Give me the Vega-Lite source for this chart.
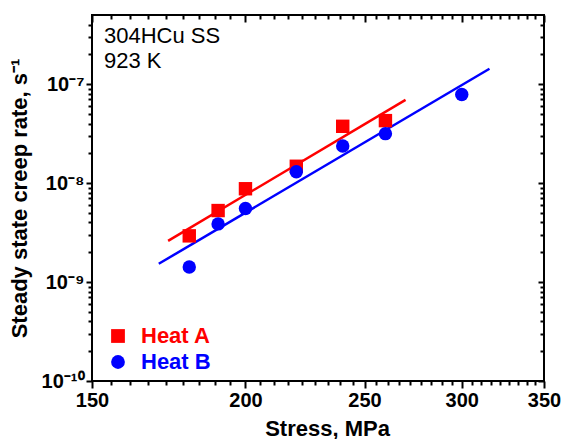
{
  "$schema": "https://vega.github.io/schema/vega-lite/v6.json",
  "width": 452,
  "height": 366,
  "padding": {"left": 8, "top": 14, "right": 0, "bottom": 0},
  "background": "white",
  "config": {
    "view": {"stroke": "black", "strokeWidth": 2},
    "font": "Liberation Sans",
    "axis": {
      "labelFont": "Liberation Sans",
      "labelFontWeight": "bold",
      "labelFontSize": 20,
      "labelColor": "black",
      "titleFont": "Liberation Sans",
      "titleFontWeight": "bold",
      "titleFontSize": 22,
      "titleColor": "black",
      "tickColor": "black",
      "tickWidth": 2,
      "grid": false
    },
    "legend": {
      "labelFont": "Liberation Sans",
      "labelFontWeight": "bold",
      "labelFontSize": 22
    }
  },
  "datasets": {
    "points": [
      {"series": "Heat A", "stress": 180, "rate": 2.93e-9},
      {"series": "Heat A", "stress": 190, "rate": 5.28e-9},
      {"series": "Heat A", "stress": 200, "rate": 8.77e-9},
      {"series": "Heat A", "stress": 220, "rate": 1.48e-8},
      {"series": "Heat A", "stress": 240, "rate": 3.75e-8},
      {"series": "Heat A", "stress": 260, "rate": 4.28e-8},
      {"series": "Heat B", "stress": 180, "rate": 1.42e-9},
      {"series": "Heat B", "stress": 190, "rate": 3.87e-9},
      {"series": "Heat B", "stress": 200, "rate": 5.53e-9},
      {"series": "Heat B", "stress": 220, "rate": 1.30e-8},
      {"series": "Heat B", "stress": 240, "rate": 2.37e-8},
      {"series": "Heat B", "stress": 260, "rate": 3.16e-8},
      {"series": "Heat B", "stress": 300, "rate": 7.87e-8}
    ],
    "fits": [
      {"series": "Heat A", "stress": 173, "rate": 2.61e-9},
      {"series": "Heat A", "stress": 270, "rate": 6.93e-8},
      {"series": "Heat B", "stress": 170, "rate": 1.53e-9},
      {"series": "Heat B", "stress": 316, "rate": 1.43e-7}
    ]
  },
  "resolve": {
    "scale": {"x": "shared", "y": "shared"},
    "axis": {"x": "independent", "y": "independent"}
  },
  "layer": [
    {
      "data": {"name": "fits"},
      "transform": [{"filter": "datum.series == 'Heat A'"}],
      "mark": {"type": "line", "strokeWidth": 2.5, "color": "#ff0000"},
      "encoding": {
        "x": {
          "field": "stress", "type": "quantitative",
          "scale": {"type": "log", "domain": [150, 350], "nice": false},
          "axis": {
            "orient": "bottom", "title": "Stress, MPa",
            "values": [150, 200, 250, 300, 350], "format": "d", "domain": false,
            "tickSize": 7, "labelPadding": 2, "labelFlush": false, "titlePadding": 8, "titleX": 235
          }
        },
        "y": {
          "field": "rate", "type": "quantitative",
          "scale": {"type": "log", "domain": [1e-10, 5e-7], "nice": false},
          "axis": {
            "orient": "left", "title": "Steady state creep rate, s⁻¹", "domain": false,
            "values": [1e-10, 1e-9, 1e-8, 1e-7],
            "labelExpr": "datum.value < 5e-10 ? '10⁻¹⁰' : datum.value < 5e-9 ? '10⁻⁹' : datum.value < 5e-8 ? '10⁻⁸' : '10⁻⁷'",
            "tickSize": 6, "labelPadding": 2, "titlePadding": 10
          }
        }
      }
    },
    {
      "data": {"name": "fits"},
      "transform": [{"filter": "datum.series == 'Heat B'"}],
      "mark": {"type": "line", "strokeWidth": 2.5, "color": "#0000ff"},
      "encoding": {
        "x": {"field": "stress", "type": "quantitative", "axis": null},
        "y": {"field": "rate", "type": "quantitative", "axis": null}
      }
    },
    {
      "data": {"name": "points"},
      "mark": {"type": "point", "filled": true, "opacity": 1, "size": 180},
      "encoding": {
        "x": {
          "field": "stress", "type": "quantitative",
          "axis": {
            "orient": "bottom", "title": null, "labels": false, "tickSize": 4, "domain": false,
            "values": [155.56, 161.11, 166.67, 172.22, 177.78, 183.33, 188.89, 194.44,
                       205.56, 211.11, 216.67, 222.22, 227.78, 233.33, 238.89, 244.44,
                       255.56, 261.11, 266.67, 272.22, 277.78, 283.33, 288.89, 294.44,
                       305.56, 311.11, 316.67, 322.22, 327.78, 333.33, 338.89, 344.44]
          }
        },
        "y": {
          "field": "rate", "type": "quantitative",
          "axis": {
            "orient": "left", "title": null, "labels": false, "tickSize": 4, "domain": false,
            "values": [2e-10, 3e-10, 4e-10, 5e-10, 6e-10, 7e-10, 8e-10, 9e-10,
                       2e-9, 3e-9, 4e-9, 5e-9, 6e-9, 7e-9, 8e-9, 9e-9,
                       2e-8, 3e-8, 4e-8, 5e-8, 6e-8, 7e-8, 8e-8, 9e-8,
                       2e-7, 3e-7, 4e-7]
          }
        },
        "color": {
          "field": "series", "type": "nominal",
          "scale": {"domain": ["Heat A", "Heat B"], "range": ["#ff0000", "#0000ff"]},
          "legend": {
            "title": null, "orient": "bottom-left", "offset": 8, "padding": 0,
            "symbolSize": 190, "symbolStrokeWidth": 0, "symbolOffset": 7,
            "labelOffset": 12, "rowPadding": 4,
            "encoding": {
              "labels": {
                "fill": {"condition": {"test": "datum.value === 'Heat A'", "value": "#ff0000"}, "value": "#0000ff"}
              }
            }
          }
        },
        "shape": {
          "field": "series", "type": "nominal",
          "scale": {"domain": ["Heat A", "Heat B"], "range": ["square", "circle"]}
        }
      }
    },
    {
      "data": {"name": "points"},
      "mark": {"type": "point", "opacity": 0},
      "encoding": {
        "x": {
          "field": "stress", "type": "quantitative",
          "axis": {"orient": "top", "title": null, "labels": false, "tickSize": 7, "offset": -7, "domain": false,
                   "values": [150, 200, 250, 300, 350]}
        },
        "y": {
          "field": "rate", "type": "quantitative",
          "axis": {"orient": "right", "title": null, "labels": false, "tickSize": 6, "offset": -6, "domain": false,
                   "values": [1e-10, 1e-9, 1e-8, 1e-7]}
        }
      }
    },
    {
      "data": {"name": "points"},
      "mark": {"type": "point", "opacity": 0},
      "encoding": {
        "x": {
          "field": "stress", "type": "quantitative",
          "axis": {
            "orient": "top", "title": null, "labels": false, "tickSize": 4, "offset": -4, "domain": false,
            "values": [155.56, 161.11, 166.67, 172.22, 177.78, 183.33, 188.89, 194.44,
                       205.56, 211.11, 216.67, 222.22, 227.78, 233.33, 238.89, 244.44,
                       255.56, 261.11, 266.67, 272.22, 277.78, 283.33, 288.89, 294.44,
                       305.56, 311.11, 316.67, 322.22, 327.78, 333.33, 338.89, 344.44]
          }
        },
        "y": {
          "field": "rate", "type": "quantitative",
          "axis": {
            "orient": "right", "title": null, "labels": false, "tickSize": 4, "offset": -4, "domain": false,
            "values": [2e-10, 3e-10, 4e-10, 5e-10, 6e-10, 7e-10, 8e-10, 9e-10,
                       2e-9, 3e-9, 4e-9, 5e-9, 6e-9, 7e-9, 8e-9, 9e-9,
                       2e-8, 3e-8, 4e-8, 5e-8, 6e-8, 7e-8, 8e-8, 9e-8,
                       2e-7, 3e-7, 4e-7]
          }
        }
      }
    },
    {
      "data": {"values": [{}]},
      "mark": {"type": "text", "align": "left", "baseline": "alphabetic",
               "fontSize": 22, "lineHeight": 25, "color": "black", "font": "Liberation Sans"},
      "encoding": {
        "x": {"datum": 153.4, "type": "quantitative", "axis": null},
        "y": {"datum": 2.6e-7, "type": "quantitative", "axis": null},
        "text": {"value": ["304HCu SS", "923 K"]}
      }
    }
  ]
}
